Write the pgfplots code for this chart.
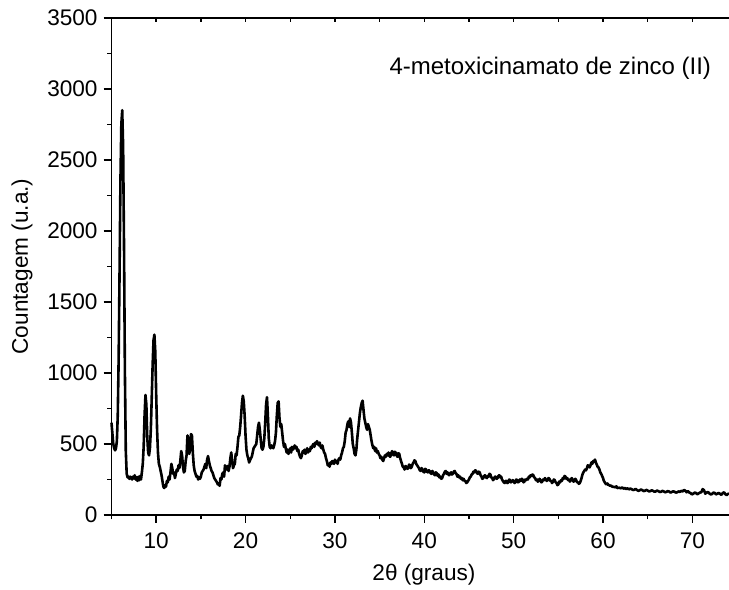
\documentclass[border=0pt]{standalone}
\usepackage{fontspec}
\setmainfont{Liberation Sans}
\usepackage{pgfplots}
\pgfplotsset{compat=1.18}
\usetikzlibrary{calc}
\pgfplotstableread{
x y
5.00 650
5.05 610
5.12 560
5.2 500
5.3 470
5.4 455
5.5 470
5.6 520
5.7 700
5.8 1100
5.9 1700
6.0 2350
6.1 2750
6.2 2850
6.3 2600
6.4 1900
6.5 1000
6.6 450
6.7 290
6.8 265
6.9 270
7.0 255
7.1 270
7.2 262
7.3 250
7.4 270
7.5 258
7.6 280
7.7 250
7.8 265
7.9 240
8.0 270
8.1 245
8.2 275
8.3 250
8.4 300
8.5 360
8.6 480
8.7 700
8.8 845
8.9 780
9.0 550
9.1 440
9.2 420
9.3 470
9.4 600
9.5 820
9.6 1050
9.7 1230
9.8 1270
9.9 1150
10.0 850
10.1 600
10.2 440
10.3 360
10.4 340
10.5 310
10.6 280
10.7 240
10.8 200
10.9 190
11.0 210
11.1 200
11.2 240
11.3 230
11.4 270
11.5 250
11.6 300
11.7 360
11.8 330
11.9 290
12.0 300
12.1 260
12.2 290
12.3 320
12.4 310
12.5 350
12.6 330
12.7 380
12.8 450
12.9 420
13.0 340
13.1 300
13.2 310
13.3 380
13.4 420
13.5 560
13.6 540
13.7 430
13.8 470
13.9 570
14.0 560
14.1 440
14.2 350
14.3 310
14.4 290
14.5 270
14.6 275
14.7 250
14.8 265
14.9 255
15.0 270
15.1 300
15.2 310
15.3 320
15.4 340
15.5 360
15.6 330
15.7 390
15.8 415
15.9 380
16.0 350
16.1 330
16.2 310
16.3 300
16.4 280
16.5 260
16.6 250
16.7 240
16.8 230
16.9 215
17.0 220
17.1 205
17.2 260
17.3 250
17.4 290
17.5 300
17.6 270
17.7 350
17.8 330
17.9 320
18.0 345
18.1 310
18.2 340
18.3 400
18.4 440
18.5 380
18.6 330
18.7 350
18.8 360
18.9 430
19.0 420
19.1 480
19.2 550
19.3 560
19.4 620
19.5 700
19.6 790
19.7 840
19.8 800
19.9 700
20.0 560
20.1 460
20.2 420
20.3 400
20.4 370
20.5 385
20.6 400
20.7 410
20.8 440
20.9 470
21.0 480
21.1 490
21.2 500
21.3 560
21.4 620
21.5 650
21.6 600
21.7 530
21.8 470
21.9 460
22.0 480
22.1 540
22.2 650
22.3 780
22.4 830
22.5 700
22.6 540
22.7 480
22.8 470
22.9 490
23.0 480
23.1 470
23.2 490
23.3 520
23.4 580
23.5 700
23.6 790
23.7 800
23.8 680
23.9 620
24.0 640
24.1 580
24.2 520
24.3 480
24.4 500
24.5 470
24.6 440
24.7 460
24.8 430
24.9 450
25.0 470
25.1 440
25.2 480
25.3 460
25.4 470
25.5 490
25.6 470
25.7 480
25.8 450
25.9 460
26.0 430
26.1 410
26.2 400
26.3 420
26.4 450
26.5 440
26.6 460
26.7 430
26.8 450
26.9 470
27.0 440
27.1 460
27.2 450
27.3 480
27.4 470
27.5 490
27.6 500
27.7 480
27.8 510
27.9 500
28.0 520
28.1 505
28.2 490
28.3 510
28.4 480
28.5 470
28.6 490
28.7 460
28.8 440
28.9 430
29.0 400
29.1 380
29.2 350
29.3 360
29.4 340
29.5 370
29.6 360
29.7 380
29.8 370
29.9 360
30.0 390
30.1 370
30.2 380
30.3 360
30.4 390
30.5 400
30.6 390
30.7 420
30.8 440
30.9 470
31.0 480
31.1 520
31.2 580
31.3 600
31.4 640
31.5 660
31.6 620
31.7 680
31.8 650
31.9 580
32.0 500
32.1 470
32.2 430
32.3 420
32.4 460
32.5 540
32.6 600
32.7 660
32.8 720
32.9 760
33.0 790
33.1 805
33.2 740
33.3 680
33.4 650
33.5 620
33.6 600
33.7 640
33.8 620
33.9 600
34.0 560
34.1 520
34.2 490
34.3 470
34.4 480
34.5 450
34.6 470
34.7 440
34.8 450
34.9 430
35.0 420
35.1 400
35.2 410
35.3 390
35.4 380
35.5 400
35.6 420
35.7 410
35.8 430
35.9 420
36.0 440
36.1 415
36.2 410
36.3 435
36.4 450
36.5 425
36.6 420
36.7 445
36.8 440
36.9 420
37.0 410
37.1 435
37.2 430
37.3 400
37.4 380
37.5 360
37.6 340
37.7 335
37.8 320
37.9 345
38.0 340
38.1 325
38.2 330
38.3 355
38.4 350
38.5 330
38.6 340
38.7 360
38.8 370
38.9 385
39.0 380
39.1 360
39.2 350
39.3 340
39.4 330
39.5 315
39.6 310
39.7 330
39.8 320
39.9 305
40.0 300
40.1 325
40.2 320
40.3 305
40.4 300
40.5 315
40.6 310
40.7 295
40.8 290
40.9 310
41.0 300
41.1 285
41.2 280
41.3 300
41.4 295
41.5 275
41.6 285
41.7 265
41.8 270
41.9 255
42.0 260
42.1 280
42.2 290
42.3 305
42.4 310
42.5 290
42.6 300
42.7 285
42.8 280
42.9 295
43.0 300
43.1 285
43.2 290
43.3 305
43.4 310
43.5 295
43.6 290
43.7 270
43.8 280
43.9 265
44.0 270
44.1 255
44.2 260
44.3 245
44.4 255
44.5 240
44.6 240
44.7 225
44.8 230
44.9 240
45.0 250
45.1 265
45.2 270
45.3 285
45.4 290
45.5 305
45.6 300
45.7 315
45.8 310
45.9 295
46.0 290
46.1 305
46.2 300
46.3 280
46.4 270
46.5 255
46.6 260
46.7 275
46.8 280
46.9 265
47.0 260
47.1 275
47.2 270
47.3 290
47.4 285
47.5 265
47.6 260
47.7 245
47.8 255
47.9 270
48.0 270
48.1 255
48.2 260
48.3 275
48.4 280
48.5 265
48.6 270
48.7 250
48.8 240
48.9 230
49.0 225
49.1 240
49.2 240
49.3 225
49.4 230
49.5 250
49.6 245
49.7 230
49.8 235
49.9 245
50.0 240
50.1 225
50.2 230
50.3 250
50.4 245
50.5 230
50.6 235
50.7 250
50.8 240
50.9 255
51.0 250
51.1 230
51.2 235
51.3 250
51.4 245
51.5 255
51.6 250
51.7 270
51.8 265
51.9 280
52.0 275
52.1 285
52.2 280
52.3 265
52.4 260
52.5 245
52.6 250
52.7 235
52.8 240
52.9 255
53.0 245
53.1 230
53.2 235
53.3 250
53.4 245
53.5 260
53.6 250
53.7 240
53.8 245
53.9 260
54.0 255
54.1 240
54.2 240
54.3 225
54.4 235
54.5 250
54.6 245
54.7 230
54.8 225
54.9 210
55.0 215
55.1 235
55.2 230
55.3 245
55.4 240
55.5 260
55.6 255
55.7 275
55.8 270
55.9 255
56.0 260
56.1 245
56.2 250
56.3 235
56.4 245
56.5 260
56.6 250
56.7 235
56.8 240
56.9 255
57.0 245
57.1 230
57.2 230
57.3 220
57.4 225
57.5 240
57.6 260
57.7 285
57.8 300
57.9 310
58.0 320
58.1 315
58.2 330
58.3 350
58.4 345
58.5 335
58.6 350
58.7 370
58.8 360
58.9 380
59.0 375
59.1 390
59.2 370
59.3 355
59.4 340
59.5 335
59.6 320
59.7 300
59.8 290
59.9 275
60.0 260
60.1 240
60.2 230
60.3 220
60.4 215
60.5 222
60.6 210
60.7 212
60.8 205
60.9 208
61.0 200
61.2 198
61.4 195
61.5 202
61.6 190
61.8 192
62.0 188
62.15 195
62.3 185
62.45 190
62.6 183
62.75 188
62.9 180
63.05 186
63.2 182
63.35 176
63.5 178
63.65 184
63.8 176
63.95 170
64.1 174
64.25 180
64.4 175
64.55 168
64.7 171
64.85 177
65.0 172
65.15 166
65.3 168
65.45 174
65.6 170
65.75 164
65.9 166
66.05 172
66.2 168
66.35 162
66.5 164
66.65 170
66.8 166
66.95 160
67.1 163
67.25 168
67.4 165
67.55 158
67.7 162
67.85 167
68.0 164
68.15 158
68.3 160
68.45 166
68.6 163
68.75 170
68.9 165
69.05 176
69.2 172
69.35 160
69.5 168
69.65 158
69.8 155
69.95 145
70.1 150
70.25 158
70.4 155
70.55 146
70.7 152
70.85 158
71.0 160
71.15 182
71.3 175
71.45 150
71.6 158
71.75 162
71.9 152
72.05 145
72.2 148
72.35 158
72.5 155
72.65 145
72.8 150
72.95 156
73.1 148
73.25 142
73.4 155
73.55 160
73.7 146
73.85 140
74.0 150
74.1 148
}\xrd
\begin{document}
\fontsize{11.3pt}{13.5pt}\selectfont
\begin{tikzpicture}
\begin{axis}[
  name=main,
  scale only axis, width=308.75pt, height=248.5pt,
  xmin=5, xmax=74.1, ymin=0, ymax=3500,
  axis x line*=bottom, axis y line*=left,
  axis line style={line width=0.7pt},
  every tick/.style={line width=0.7pt, black},
  tick align=outside,
  major tick length=4pt, minor tick length=2.2pt,
  xtick={10,20,...,70}, minor xtick={5,15,...,75},
  ytick={0,500,...,3500}, minor ytick={250,750,...,3250},
  /pgf/number format/assume math mode=true,
  /pgf/number format/1000 sep={},
  ticklabel style={font=\fontsize{11.3pt}{13.5pt}\selectfont},
  xticklabel style={yshift=-1pt},
  yticklabel style={xshift=1pt},
  clip=false,
]
\addplot[black, line width=1.3pt, line join=round] table[x=x,y=y] {\xrd};
\node[anchor=center, font=\fontsize{12pt}{14pt}\selectfont] at (axis cs:54.1,3148) {4-metoxicinamato de zinco (II)};
\node[anchor=center, rotate=90] at (rel axis cs:-0.1449,0.5) {Countagem (u.a.)};
\node[anchor=center] at (rel axis cs:0.506,-0.121) {2θ (graus)};
\end{axis}
\begin{axis}[
  scale only axis, width=308.75pt, height=248.5pt,
  xmin=5, xmax=74.1, ymin=0, ymax=3500,
  axis x line*=top, hide y axis,
  axis line style={line width=0.7pt},
  every tick/.style={line width=0.7pt, black},
  tick align=inside, major tick length=2pt,
  xtick={5,10,...,75}, xticklabels={},
]
\end{axis}
\pgfresetboundingbox
\path[use as bounding box] ($(main.south west)+(-55.75pt,-37.5pt)$) rectangle ($(main.north east)+(0pt,9pt)$);
\end{tikzpicture}
\end{document}
